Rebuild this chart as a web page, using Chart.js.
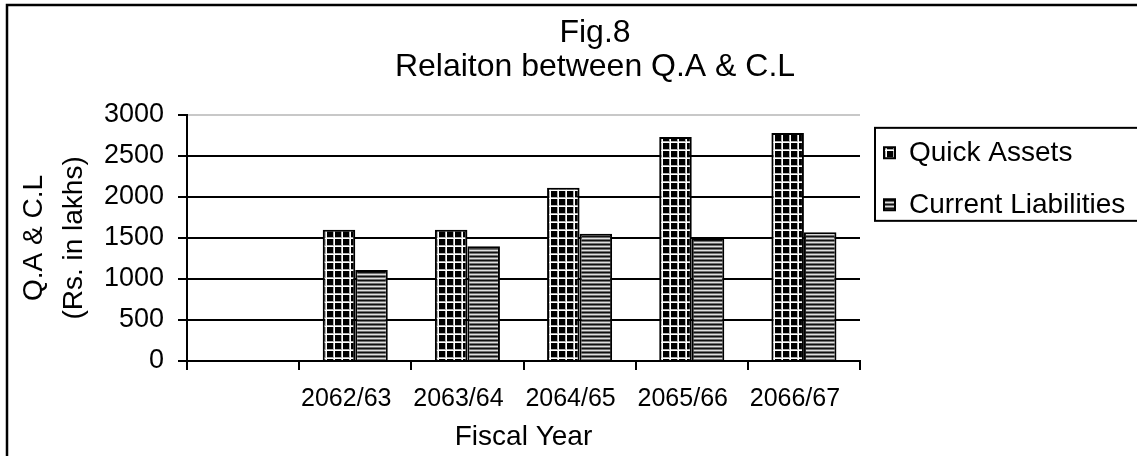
<!DOCTYPE html>
<html>
<head>
<meta charset="utf-8">
<script src="https://cdn.jsdelivr.net/npm/chart.js@4.4.1/dist/chart.umd.min.js"></script>
<style>
  html, body { margin: 0; padding: 0; background: #fff; }
  #wrap { width: 1137px; height: 456px; position: relative; }
</style>
</head>
<body>
<div id="wrap"><canvas id="qaChart"></canvas></div>
<script>
const years = ["", "2062/63", "2063/64", "2064/65", "2065/66", "2066/67"];
const quickAssets = [null, 1600, 1600, 2110, 2730, 2780];
const currentLiabilities = [null, 1110, 1400, 1550, 1500, 1570];
const yTicks = [0, 500, 1000, 1500, 2000, 2500, 3000];

Chart.defaults.font.family = "'Liberation Sans', Arial, sans-serif";
Chart.defaults.color = "#000";

// black cells with white grid lines
function gridPattern() {
    const c = document.createElement('canvas');
    c.width = 8; c.height = 8;
    const g = c.getContext('2d');
    g.fillStyle = '#000';
    g.fillRect(0, 0, 8, 8);
    g.fillStyle = '#b0b0b0';
    g.fillRect(5, 0, 1, 8);
    g.fillRect(0, 5, 8, 1);
    g.fillStyle = '#fff';
    g.fillRect(6, 0, 1, 8);
    g.fillRect(0, 6, 8, 1);
    return g.createPattern(c, 'repeat');
}

// horizontal stripes
function stripePattern() {
    const c = document.createElement('canvas');
    c.width = 4; c.height = 4;
    const g = c.getContext('2d');
    const rows = ['#111', '#707070', '#e0e0e0', '#707070'];
    rows.forEach((col, i) => { g.fillStyle = col; g.fillRect(0, i, 4, 1); });
    return g.createPattern(c, 'repeat');
}

const ctx = document.getElementById('qaChart').getContext('2d');

// frame lines + legend border
const decor = {
    id: 'decor',
    beforeLayout(chart) {
        const lg = chart.legend;
        if (lg && !lg._fixedWidth) {
            const fit = lg.fit.bind(lg);
            lg.fit = function () { fit(); this.width = 323; };
            lg._fixedWidth = true;
        }
    },
    afterDraw(chart) {
        const c = chart.ctx;
        c.save();
        c.strokeStyle = '#000';
        c.lineWidth = 2.5;
        c.beginPath();
        c.moveTo(7, 456);
        c.lineTo(7, 5);
        c.lineTo(1137, 5);
        c.stroke();
        const lg = chart.legend;
        c.lineWidth = 2;
        c.strokeRect(lg.left + 15, lg.top + 13, 400, 93);
        c.restore();
    }
};

const qaChart = new Chart(ctx, {
    type: 'bar',
    data: {
        labels: years,
        datasets: [{
            label: "Quick Assets",
            data: quickAssets,
            backgroundColor: gridPattern(),
            borderColor: '#000',
            borderWidth: 2
        }, {
            label: "Current Liabilities",
            data: currentLiabilities,
            backgroundColor: stripePattern(),
            borderColor: '#000',
            borderWidth: 2
        }]
    },
    options: {
        responsive: true,
        maintainAspectRatio: false,
        animation: false,
        layout: { padding: { left: 7, right: -46, top: 6, bottom: 0 } },
        datasets: {
            bar: { categoryPercentage: 0.58, barPercentage: 1 }
        },
        scales: {
            y: {
                min: 0,
                max: 3000,
                afterFit: s => { s.width = 180; },
                afterBuildTicks: s => { s.ticks = yTicks.map(v => ({ value: v })); },
                ticks: {
                    font: { size: 27 },
                    color: '#000',
                    padding: 14,
                    callback: v => String(v)
                },
                grid: {
                    color: c => (c.tick && c.tick.value === 3000) ? '#c8c8c8' : '#000',
                    lineWidth: 2,
                    tickColor: '#000',
                    tickLength: 9
                },
                border: { color: '#000', width: 2 },
                title: {
                    display: true,
                    text: ["Q.A & C.L", "(Rs. in lakhs)"],
                    font: { size: 28, lineHeight: 1.43 },
                    color: '#000',
                    padding: { top: 7, bottom: 0 }
                }
            },
            x: {
                afterFit: s => { s.height = 95; },
                ticks: {
                    font: { size: 25 },
                    color: '#000',
                    padding: 14,
                    labelOffset: -9,
                    maxRotation: 0,
                    autoSkip: false
                },
                grid: {
                    drawOnChartArea: false,
                    color: '#000',
                    lineWidth: 2,
                    tickLength: 9
                },
                border: { color: '#000', width: 2 },
                title: {
                    display: true,
                    text: "Fiscal Year",
                    font: { size: 28 },
                    color: '#000',
                    padding: { top: 0, bottom: 2 }
                }
            }
        },
        plugins: {
            title: {
                display: true,
                text: ["Fig.8", "Relaiton between Q.A & C.L"],
                font: { size: 32, weight: 'normal', lineHeight: 1.06 },
                color: '#000',
                padding: { top: 10, bottom: 31 }
            },
            legend: {
                position: 'right',
                fullSize: false,
                align: 'start',
                labels: {
                    boxWidth: 11,
                    boxHeight: 11,
                    padding: 24,
                    font: { size: 28 },
                    color: '#000'
                }
            },
            tooltip: { enabled: false }
        }
    },
    plugins: [decor]
});
</script>
</body>
</html>
